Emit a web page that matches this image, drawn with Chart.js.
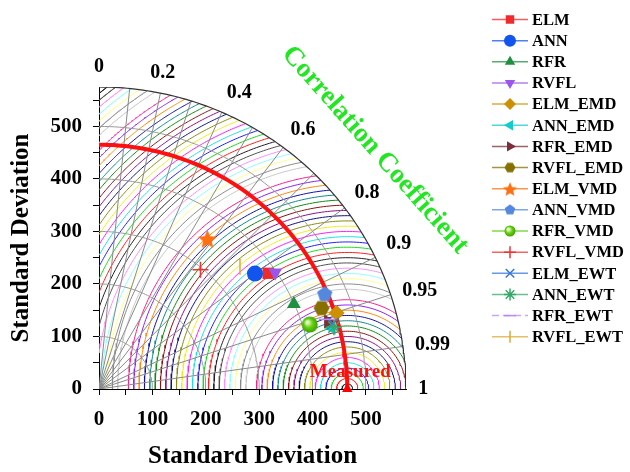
<!DOCTYPE html>
<html>
<head>
<meta charset="utf-8">
<script src="https://cdn.jsdelivr.net/npm/chart.js@4"></script>
<style>
  html, body { margin: 0; padding: 0; background: #fff; }
  #taylorChart { display: block; }
</style>
</head>
<body>
<canvas id="taylorChart" width="630" height="472"></canvas>
<script>
// モデル一覧と読み取った値（標準偏差・相関係数）
const models = ['ELM', 'ANN', 'RFR', 'RVFL', 'ELM_EMD', 'ANN_EMD', 'RFR_EMD', 'RVFL_EMD',
    'ELM_VMD', 'ANN_VMD', 'RFR_VMD', 'RVFL_VMD', 'ELM_EWT', 'ANN_EWT', 'RFR_EWT', 'RVFL_EWT'];
const stdDev = [385.9, 365.6, 399.3, 397.7, 468.0, 451.2, 448.0, 444.5,
    350.7, 459.7, 413.4, 296.0, 455.2, 455.5, 446.9, 352.1];
const corrCoef = [0.821, 0.799, 0.914, 0.830, 0.951, 0.966, 0.958, 0.938,
    0.579, 0.920, 0.955, 0.642, 0.962, 0.966, 0.955, 0.750];

const measuredStd = 465;
const stdMax = 575;
const stdArcs = [100, 200, 300, 400, 500];
const corrLines = [0.1, 0.2, 0.3, 0.4, 0.5, 0.6, 0.7, 0.8, 0.9, 0.95, 0.99];
const corrLabels = [0, 0.2, 0.4, 0.6, 0.8, 0.9, 0.95, 0.99, 1];
const rmsStep = 10;
const rmsMax = 740;

// Origin 既定の色順
const originColors = ['#202020', '#ff2020', '#20d820', '#2020ff', '#20e0e0', '#ff20ff', '#eeee20', '#8a8a10',
    '#10108a', '#8a108a', '#8a1010', '#108a10', '#108a8a', '#1010aa', '#ff8a10', '#8a20ff',
    '#ff2090', '#ffffff', '#c8c8c8', '#8a8a8a', '#ffff90', '#90ffff', '#ff90ff', '#505050'];

const serif = '"Liberation Serif", "Times New Roman", serif';

function markerCanvas(size, draw) {
    const c = document.createElement('canvas');
    c.width = size;
    c.height = size;
    draw(c.getContext('2d'), size / 2);
    return c;
}

function polygonMarker(size, n, color, rot) {
    return markerCanvas(size, (g, h) => {
        g.beginPath();
        for (let i = 0; i < n; i++) {
            const a = rot + i * 2 * Math.PI / n;
            const px = h + (h - 0.5) * Math.cos(a);
            const py = h + (h - 0.5) * Math.sin(a);
            i === 0 ? g.moveTo(px, py) : g.lineTo(px, py);
        }
        g.closePath();
        g.fillStyle = color;
        g.fill();
    });
}

function starMarker(size, color) {
    return markerCanvas(size, (g, h) => {
        g.beginPath();
        for (let i = 0; i < 10; i++) {
            const r = i % 2 === 0 ? h - 0.5 : (h - 0.5) * 0.45;
            const a = -Math.PI / 2 + i * Math.PI / 5;
            const px = h + r * Math.cos(a);
            const py = h + 1 + r * Math.sin(a);
            i === 0 ? g.moveTo(px, py) : g.lineTo(px, py);
        }
        g.closePath();
        g.fillStyle = color;
        g.fill();
    });
}

function ballMarker(size) {
    return markerCanvas(size, (g, h) => {
        const grad = g.createRadialGradient(h * 0.7, h * 0.7, 1, h, h, h);
        grad.addColorStop(0, '#eaffd0');
        grad.addColorStop(0.45, '#66d011');
        grad.addColorStop(1, '#3a9a00');
        g.beginPath();
        g.arc(h, h, h - 0.5, 0, Math.PI * 2);
        g.fillStyle = grad;
        g.fill();
    });
}

// 各モデルのマーカー設定
const modelStyles = [
    { color: '#ee2a2a', style: 'rect', rot: 0 },
    { color: '#1155ee', style: 'circle', rot: 0 },
    { color: '#1f9040', style: 'triangle', rot: 0 },
    { color: '#9955ee', style: 'triangle', rot: 180 },
    { color: '#cc9000', style: 'rectRot', rot: 0 },
    { color: '#11cccc', style: 'triangle', rot: -90 },
    { color: '#7a3038', style: 'triangle', rot: 90 },
    { color: '#857000', style: 'hex', rot: 0 },
    { color: '#ff7010', style: 'star5', rot: 0 },
    { color: '#5588dd', style: 'penta', rot: 0 },
    { color: '#55cc11', style: 'ball', rot: 0 },
    { color: '#ee3333', style: 'cross', rot: 0 },
    { color: '#3377dd', style: 'crossRot', rot: 0 },
    { color: '#33aa66', style: 'star', rot: 0 },
    { color: '#bb88ee', style: 'line', rot: 0 },
    { color: '#ddaa33', style: 'line', rot: 90 }
];
const strokeOnly = ['cross', 'crossRot', 'star', 'line'];

function resolveStyle(s, size) {
    if (s.style === 'hex') return polygonMarker(size, 6, s.color, 0);
    if (s.style === 'penta') return polygonMarker(size, 5, s.color, -Math.PI / 2);
    if (s.style === 'star5') return starMarker(size + 4, s.color);
    if (s.style === 'ball') return ballMarker(size);
    return s.style;
}

function toXY(std, r) {
    return { x: std * r, y: std * Math.sqrt(Math.max(0, 1 - r * r)) };
}

// 円弧の点列（中心 (cx,0)、半径 r、角度 t0..t1）
function arcPoints(cx, r, t0, t1, n) {
    const pts = [];
    for (let i = 0; i <= n; i++) {
        const t = t0 + (t1 - t0) * i / n;
        pts.push({ x: cx + r * Math.cos(t), y: r * Math.sin(t) });
    }
    return pts;
}

function lineSet(data, color, width, order) {
    return {
        type: 'line', data, borderColor: color, borderWidth: width,
        pointRadius: 0, fill: false, tension: 0, order
    };
}

const datasets = [];

// モデルの点（後のモデルほど上に描く）
models.forEach((name, i) => {
    const s = modelStyles[i];
    datasets.push({
        label: name,
        data: [toXY(stdDev[i], corrCoef[i])],
        pointStyle: resolveStyle(s, 17),
        rotation: s.rot,
        pointRadius: 8,
        backgroundColor: s.color,
        borderColor: s.color,
        borderWidth: strokeOnly.includes(s.style) ? 1.5 : 0,
        order: 1 - i * 0.01
    });
});

// 実測値
datasets.push({
    label: 'Measured',
    data: [{ x: measuredStd, y: 0 }],
    pointStyle: 'triangle', pointRadius: 6,
    backgroundColor: '#ff0000', borderWidth: 0, clip: false, order: -1
});

// 基準の赤い円弧
datasets.push(lineSet(arcPoints(0, measuredStd, 0, Math.PI / 2, 90), '#ff1010', 4, 2));

// 外周と標準偏差の円弧
datasets.push(lineSet(arcPoints(0, stdMax, 0, Math.PI / 2, 120), '#333333', 1.2, 3));
stdArcs.forEach(r => datasets.push(lineSet(arcPoints(0, r, 0, Math.PI / 2, 80), '#9a9a9a', 1, 3)));

// 相関係数の放射線
corrLines.forEach(c => datasets.push(lineSet([{ x: 0, y: 0 }, toXY(stdMax, c)], '#8a8a8a', 1, 3)));

// RMSD の同心円（四分円の内側のみ）
for (let k = 1; k * rmsStep <= rmsMax; k++) {
    const r = k * rmsStep;
    const a = (stdMax * stdMax - measuredStd * measuredStd - r * r) / (2 * measuredStd * r);
    const t0 = a >= 1 ? 0 : Math.acos(Math.max(-1, a));
    const t1 = measuredStd / r >= 1 ? Math.PI : Math.acos(-measuredStd / r);
    if (t1 <= t0) continue;
    datasets.push(lineSet(arcPoints(measuredStd, r, t0, t1, 90), originColors[(k - 1) % 24], 1, 4));
}

const taylorText = {
    id: 'taylorText',
    afterDraw(chart) {
        const { ctx, scales: { x, y } } = chart;
        ctx.save();

        // 相関係数の目盛りラベル
        ctx.fillStyle = '#000';
        ctx.font = 'bold 20px ' + serif;
        corrLabels.forEach(c => {
            const p = toXY(598, c);
            const px = x.getPixelForValue(p.x);
            const py = y.getPixelForValue(p.y);
            ctx.textAlign = c < 0.3 ? 'center' : 'left';
            ctx.textBaseline = c <= 0.9 ? 'bottom' : 'middle';
            ctx.fillText(String(c), px, py + (c <= 0.9 ? 2 : 0));
        });

        // 軸タイトル（相関係数）
        ctx.save();
        ctx.translate(375, 150);
        ctx.rotate(48.5 * Math.PI / 180);
        ctx.fillStyle = '#22e622';
        ctx.font = 'bold 27px ' + serif;
        ctx.textAlign = 'center';
        ctx.textBaseline = 'middle';
        ctx.fillText('Correlation Coefficient', 0, 0);
        ctx.restore();

        // Measured ラベル
        ctx.fillStyle = '#ff1010';
        ctx.font = 'bold 19px ' + serif;
        ctx.textAlign = 'center';
        ctx.textBaseline = 'middle';
        ctx.fillText('Measured', x.getPixelForValue(measuredStd) + 3, y.getPixelForValue(0) - 17);

        // 凡例
        models.forEach((name, i) => {
            const s = modelStyles[i];
            const cy = 19.5 + i * 21.15;
            ctx.strokeStyle = s.color;
            ctx.globalAlpha = 0.75;
            ctx.lineWidth = 1.5;
            ctx.beginPath();
            if (s.style === 'line' && s.rot === 0) {
                ctx.setLineDash([7, 4]);
            }
            ctx.moveTo(492, cy);
            ctx.lineTo(528, cy);
            ctx.stroke();
            ctx.setLineDash([]);
            ctx.globalAlpha = 1;

            const ps = resolveStyle(s, 12);
            ctx.fillStyle = s.color;
            ctx.strokeStyle = s.color;
            if (typeof ps !== 'string') {
                ctx.drawImage(ps, 510 - ps.width / 2, cy - ps.height / 2);
            } else {
                Chart.helpers.drawPoint(ctx, {
                    pointStyle: ps, rotation: s.rot, radius: 6,
                    borderWidth: strokeOnly.includes(s.style) ? 1.5 : 0
                }, 510, cy);
            }

            ctx.fillStyle = '#000';
            ctx.font = 'bold 16.5px ' + serif;
            ctx.textAlign = 'left';
            ctx.textBaseline = 'middle';
            ctx.fillText(name, 532, cy + 1);
        });

        ctx.restore();
    }
};

const tickFont = { family: serif, size: 21, weight: 'bold' };
const titleFont = { family: serif, size: 25, weight: 'bold' };

const ctx = document.getElementById('taylorChart').getContext('2d');
new Chart(ctx, {
    type: 'scatter',
    data: { datasets },
    options: {
        responsive: false,
        animation: false,
        layout: { padding: { top: 87, right: 224, left: 0, bottom: 0 } },
        plugins: {
            legend: { display: false },
            tooltip: { enabled: false }
        },
        scales: {
            x: {
                type: 'linear', min: 0, max: stdMax,
                afterFit: s => { s.height = 83; },
                ticks: {
                    stepSize: 50, includeBounds: false, autoSkip: false, maxRotation: 0,
                    padding: 12, color: '#000', font: tickFont,
                    callback: v => (v % 100 === 0 ? v : '')
                },
                grid: { drawOnChartArea: false, drawTicks: true, tickLength: 6, color: '#000' },
                border: { color: '#000', width: 1 },
                title: { display: true, text: 'Standard Deviation', color: '#000', font: titleFont, padding: { top: 0, bottom: 0 } }
            },
            y: {
                type: 'linear', min: 0, max: stdMax,
                afterFit: s => { s.width = 99; },
                ticks: {
                    stepSize: 50, includeBounds: false, autoSkip: false,
                    padding: 11, color: '#000', font: tickFont,
                    callback: v => (v % 100 === 0 ? v : '')
                },
                grid: { drawOnChartArea: false, drawTicks: true, tickLength: 6, color: '#000' },
                border: { color: '#000', width: 1 },
                title: { display: true, text: 'Standard Deviation', color: '#000', font: titleFont, padding: { top: 7, bottom: 0 } }
            }
        }
    },
    plugins: [taylorText]
});
</script>
</body>
</html>
